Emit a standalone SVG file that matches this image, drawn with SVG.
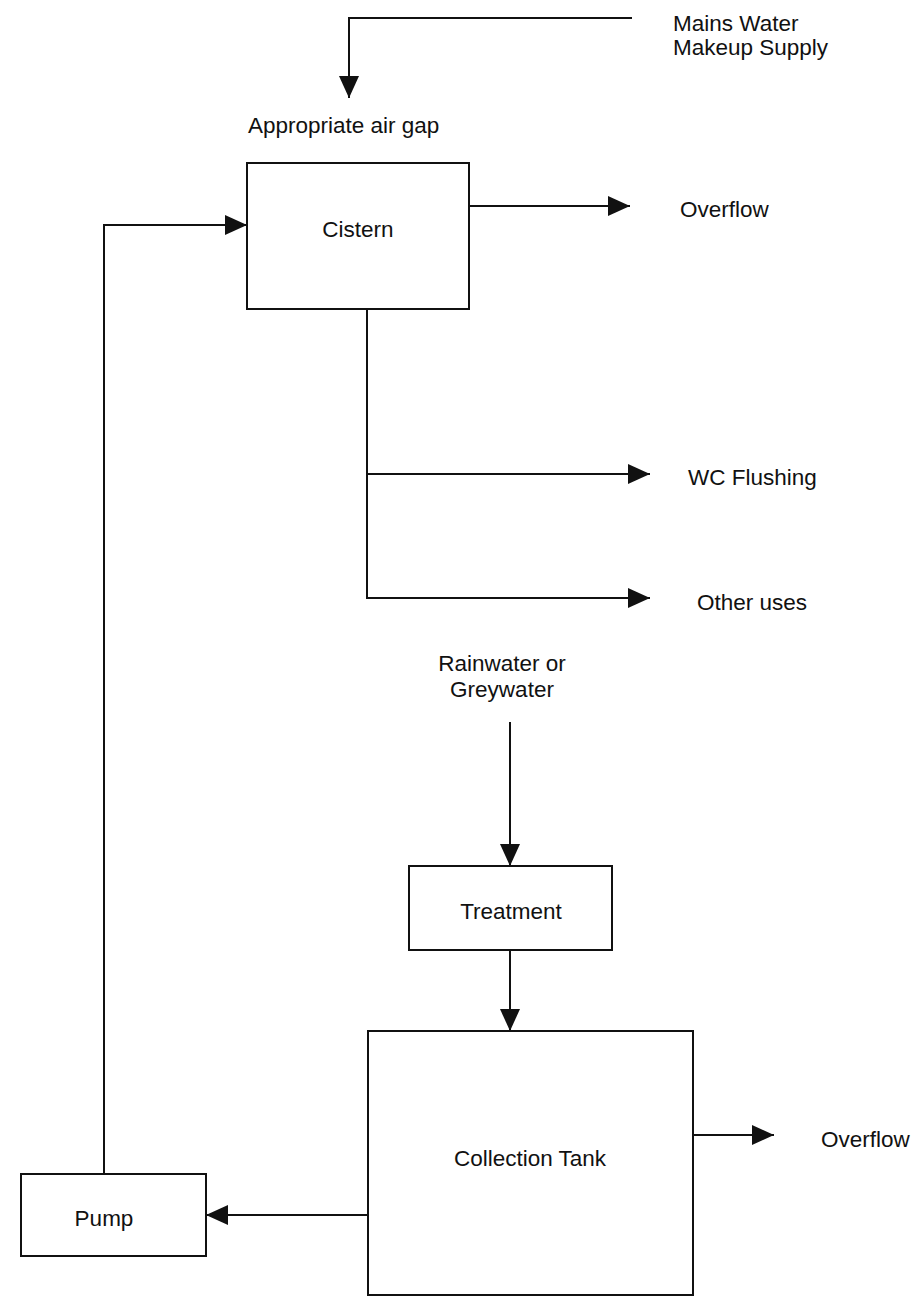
<svg xmlns="http://www.w3.org/2000/svg" width="915" height="1297" viewBox="0 0 915 1297">
<defs>
<style>
.box{fill:#fff;stroke:#111;stroke-width:2}
.ln{fill:none;stroke:#111;stroke-width:2}
.t{font-family:"Liberation Sans",Arial,sans-serif;font-size:22.5px;fill:#111}
.c{text-anchor:middle}
</style>
<marker id="ah" markerUnits="userSpaceOnUse" markerWidth="22" markerHeight="20" refX="22" refY="10" orient="auto">
<path d="M0,0 L22,10 L0,20 Z" fill="#111"/>
</marker>
</defs>
<rect width="915" height="1297" fill="#fff"/>
<g id="connectors">
<path class="ln" d="M632,18 H349 V98" marker-end="url(#ah)"/>
<path class="ln" d="M469,206 H630" marker-end="url(#ah)"/>
<path class="ln" d="M367,309 V598 H650" marker-end="url(#ah)"/>
<path class="ln" d="M367,474 H650" marker-end="url(#ah)"/>
<path class="ln" d="M510,722 V866" marker-end="url(#ah)"/>
<path class="ln" d="M510,950 V1031" marker-end="url(#ah)"/>
<path class="ln" d="M693,1135 H774" marker-end="url(#ah)"/>
<path class="ln" d="M368,1215 H206" marker-end="url(#ah)"/>
<path class="ln" d="M104,1174 V225 H247" marker-end="url(#ah)"/>
</g>
<g id="mains">
<text class="t" x="673" y="31">Mains Water</text>
<text class="t" x="673" y="55">Makeup Supply</text>
</g>
<g id="airgap">
<text class="t" x="248" y="133">Appropriate air gap</text>
</g>
<g id="cistern">
<rect class="box" x="247" y="163" width="222" height="146"/>
<text class="t c" x="358" y="237">Cistern</text>
</g>
<g id="overflow1">
<text class="t" x="680" y="217">Overflow</text>
</g>
<g id="wc">
<text class="t" x="688" y="485">WC Flushing</text>
</g>
<g id="other">
<text class="t" x="697" y="610">Other uses</text>
</g>
<g id="source">
<text class="t c" x="502" y="671">Rainwater or</text>
<text class="t c" x="502" y="697">Greywater</text>
</g>
<g id="treatment">
<rect class="box" x="409" y="866" width="203" height="84"/>
<text class="t c" x="511" y="919">Treatment</text>
</g>
<g id="tank">
<rect class="box" x="368" y="1031" width="325" height="264"/>
<text class="t c" x="530" y="1166">Collection Tank</text>
</g>
<g id="overflow2">
<text class="t" x="821" y="1147">Overflow</text>
</g>
<g id="pump">
<rect class="box" x="21" y="1174" width="185" height="82"/>
<text class="t c" x="104" y="1226">Pump</text>
</g>
</svg>
